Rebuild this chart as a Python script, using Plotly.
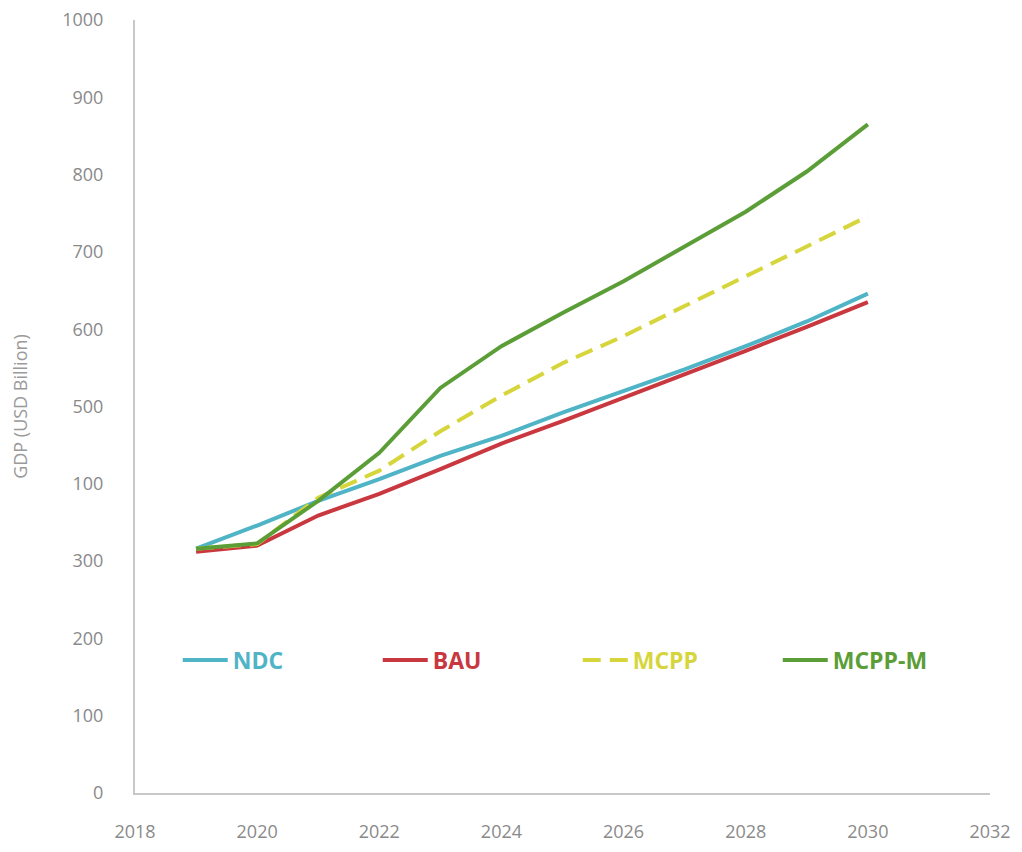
import plotly.graph_objects as go

years = [2019, 2020, 2021, 2022, 2023, 2024, 2025, 2026, 2027, 2028, 2029, 2030]
ndc = [316, 346, 378, 406, 436, 462, 492, 520, 548, 578, 610, 646]
bau = [312, 320, 359, 387, 419, 452, 481, 511, 541, 572, 603, 635]
mcpp = [316, 322, 382, 417, 468, 514, 556, 591, 630, 668, 707, 746]
mcpp_m = [316, 323, 378, 440, 524, 578, 621, 662, 707, 752, 804, 865]

y_ticks = [0, 100, 200, 300, 400, 500, 600, 700, 800, 900, 1000]
y_labels = ["0", "100", "200", "300", "100", "500", "600", "700", "800", "900", "1000"]
x_ticks = [2018, 2020, 2022, 2024, 2026, 2028, 2030, 2032]

series = [
    ("NDC", ndc, "#4fb4c6", "solid"),
    ("BAU", bau, "#c9383f", "solid"),
    ("MCPP", mcpp, "#d6d63c", "18px,9px"),
    ("MCPP-M", mcpp_m, "#5b9e37", "solid"),
]

fig = go.Figure()
for name, vals, color, dash in series:
    fig.add_trace(
        go.Scatter(
            x=years,
            y=vals,
            mode="lines",
            name=f"<b><span style='color:{color}'>{name}</span></b>",
            line=dict(color=color, width=4, dash=dash),
        )
    )

fig.update_layout(
    width=1014,
    height=844,
    margin=dict(l=127, r=32, t=12, b=59),
    paper_bgcolor="white",
    plot_bgcolor="white",
    font=dict(family="Open Sans", color="#8a8a8a", size=16),
    legend=dict(
        orientation="h",
        x=0.05,
        y=0.172,
        xanchor="left",
        yanchor="middle",
        itemwidth=45,
        entrywidth=140,
        entrywidthmode="pixels",
        font=dict(size=23, family="Open Sans"),
        bgcolor="rgba(0,0,0,0)",
    ),
    xaxis=dict(
        range=[2018, 2032],
        tickvals=x_ticks,
        automargin=False,
        showgrid=False,
        zeroline=False,
        showline=True,
        linecolor="#c8c8c8",
        linewidth=2,
        ticks="",
        ticklabelstandoff=21,
        tickfont=dict(size=18, color="#8a8a8a"),
    ),
    yaxis=dict(
        range=[0, 1000],
        tickvals=y_ticks,
        ticktext=y_labels,
        automargin=False,
        ticklabeloverflow="allow",
        showgrid=False,
        zeroline=False,
        showline=True,
        linecolor="#c8c8c8",
        linewidth=2,
        ticks="",
        ticklabelstandoff=26,
        tickfont=dict(size=18, color="#8a8a8a"),
        title=dict(text="GDP (USD Billion)", standoff=32,
                   font=dict(size=18, color="#9a9a9a")),
    ),
)

fig.write_html("out.html")
